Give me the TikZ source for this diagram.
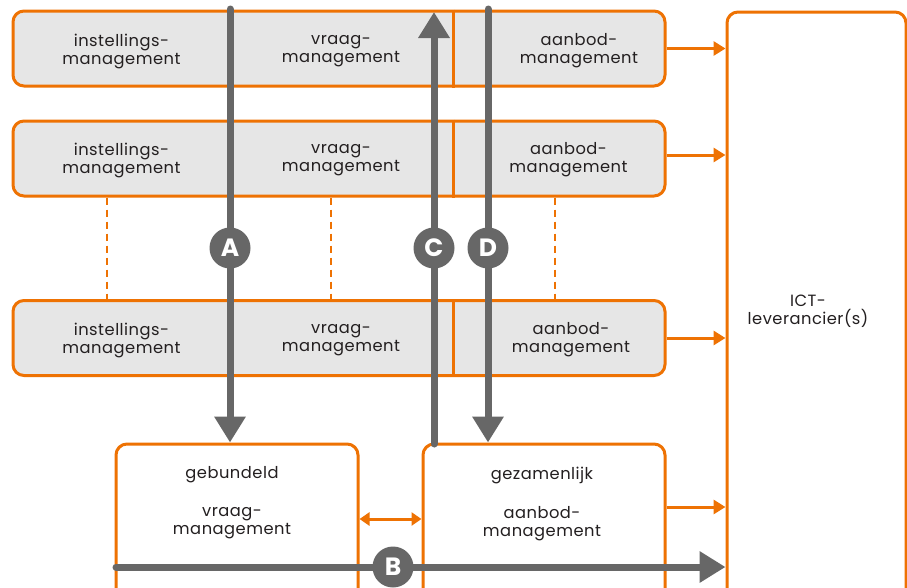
\documentclass[tikz,border=0pt]{standalone}
\usepackage{fontspec}
\setmainfont[LetterSpace=3]{Poppins}
\usetikzlibrary{arrows.meta,calc}
\definecolor{accent}{RGB}{238,114,3}
\definecolor{track}{RGB}{103,103,103}
\definecolor{panel}{RGB}{230,230,230}
\definecolor{ink}{RGB}{35,31,32}

\begin{document}
\begin{tikzpicture}[x=1pt,y=-1pt,
  rowbox/.style={draw=accent, line width=3pt, fill=panel, rounded corners=11pt,
    minimum width=652pt, minimum height=75pt, inner sep=0pt},
  unitbox/.style={draw=accent, line width=3pt, fill=white, rounded corners=11pt,
    minimum width=242pt, minimum height=176pt, inner sep=0pt},
  lbl/.style={align=center, text=ink, inner sep=0pt,
    font=\fontsize{16.3}{18}\selectfont},
  divider/.style={draw=accent, line width=3pt},
  dashline/.style={draw=accent, line width=2.5pt, dash pattern=on 7pt off 5pt},
  feed/.style={draw=accent, line width=3pt, -{Triangle[width=14pt,length=12pt]}},
  both/.style={draw=accent, line width=3pt,
    {Triangle[width=13pt,length=10pt]}-{Triangle[width=13pt,length=10pt]}},
  flow/.style={draw=track, line width=7pt, line cap=round,
    -{Triangle[width=30pt,length=26pt]}},
  badge/.style={circle, fill=track, minimum size=41pt, inner sep=0pt,
    text=white, font=\fontsize{25}{25}\selectfont\bfseries}]

\clip (0,0) rectangle (907,587);
\fill[white] (0,0) rectangle (907,587);

% supplier column on the right
\node[draw=accent, line width=3pt, rounded corners=11pt, minimum width=179pt,
  minimum height=608pt, inner sep=0pt] (ict) at (816.5,316) {};
\node[lbl] (ictl) at (808,311) {ICT-\\leverancier(s)};

% three institutions, each with three management layers
\node[rowbox] (r1) at (339,48.5) {};
\node[rowbox] (r2) at (339,158.5) {};
\node[rowbox] (r3) at (339,338) {};
\foreach \r in {r1,r2,r3}
  \draw[divider] (453,0 |- \r.north) -- (453,0 |- \r.south);

\node[lbl] (i1) at (121.5,51) {instellings-\\management};
\node[lbl] (v1) at (341,51) {vraag-\\management};
\node[lbl] (a1) at (579,51) {aanbod-\\management};
\node[lbl] (i2) at (121.5,160) {instellings-\\management};
\node[lbl] (v2) at (341,160) {vraag-\\management};
\node[lbl] (a2) at (568.5,160) {aanbod-\\management};
\node[lbl] (i3) at (121.5,340) {instellings-\\management};
\node[lbl] (v3) at (341,340) {vraag-\\management};
\node[lbl] (a3) at (571,340) {aanbod-\\management};

% further institutions implied
\foreach \x in {107,331,555}
  \draw[dashline] (\x,0 |- r2.south) -- (\x,0 |- r3.north);

% shared organisations at the bottom
\node[unitbox] (geb) at (237,532) {};
\node[unitbox] (gez) at (544,532) {};
\node[lbl] (gebt) at (232,475) {gebundeld};
\node[lbl] (gebs) at (232,523.5) {vraag-\\management};
\node[lbl] (gezt) at (542,475) {gezamenlijk};
\node[lbl] (gezs) at (542,523.5) {aanbod-\\management};

% supply relations towards the supplier
\draw[feed] (r1.east) -- (r1.east -| ict.west);
\coordinate (r2out) at ([yshift=3.5pt]r2.east);
\draw[feed] (r2out) -- (r2out -| ict.west);
\draw[feed] (r3.east) -- (r3.east -| ict.west);
\coordinate (gezout) at ([yshift=25pt]gez.east);
\draw[feed] (gezout) -- (gezout -| ict.west);
\coordinate (gebout) at ([yshift=13pt]geb.east);
\draw[both] (gebout) -- (gebout -| gez.west);

% scenario routes
\coordinate (aTop) at (230,9);
\draw[flow] (aTop) -- (aTop |- geb.north);
\coordinate (cBot) at (434,444);
\draw[flow] (cBot) -- (434,12);
\coordinate (dTop) at (488,9);
\draw[flow] (dTop) -- (dTop |- gez.north);
\coordinate (bStart) at (116,567);
\draw[flow] (bStart) -- (bStart -| ict.west);

\node[badge] (A) at (230,248) {A};
\node[badge] (C) at (434,248) {C};
\node[badge] (D) at (488,248) {D};
\node[badge] (B) at (393,567) {B};
\end{tikzpicture}
\end{document}
